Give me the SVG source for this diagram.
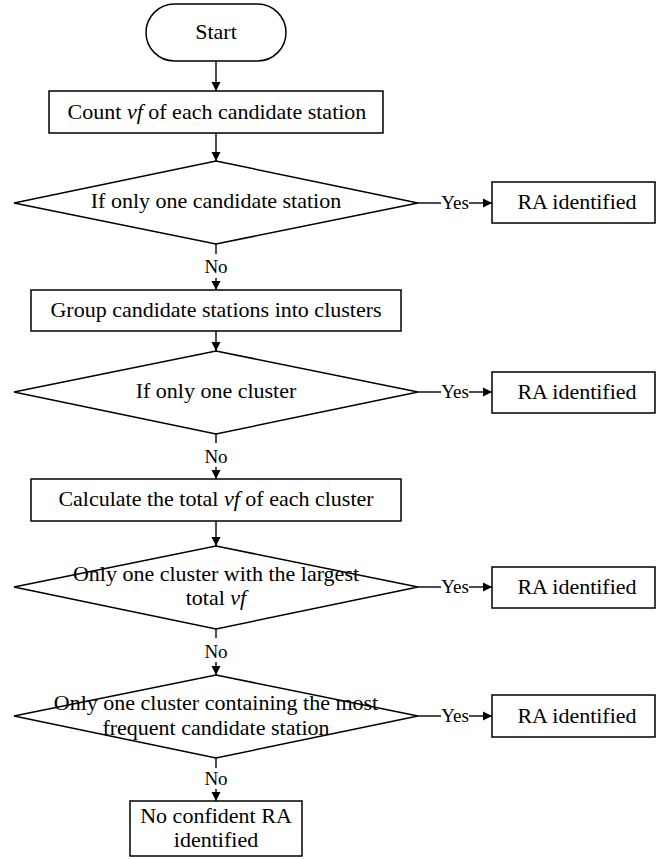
<svg xmlns="http://www.w3.org/2000/svg" width="656" height="859" viewBox="0 0 656 859">
<defs>
<marker id="ah" markerUnits="userSpaceOnUse" markerWidth="10" markerHeight="10" viewBox="0 0 10 10" refX="9" refY="5" orient="auto">
<path d="M0,0.5 L9,5 L0,9.5 Z" fill="#000"/>
</marker>
</defs>
<style>
.s{fill:#fff;stroke:#000;stroke-width:1.5}
.t{font-size:22px;fill:#000;text-anchor:middle}
.l{font-size:19px;fill:#000;text-anchor:middle}
.c{fill:none;stroke:#000;stroke-width:1.4}
.i{font-style:italic}
</style>
<rect width="656" height="859" fill="#fff"/>
<g font-family="Liberation Serif, Times New Roman, DejaVu Serif, serif">
<g id="connectors">
<path class="c" d="M216,61 V91" marker-end="url(#ah)"/>
<path class="c" d="M216,133 V161" marker-end="url(#ah)"/>
<path class="c" d="M216,244 V254"/>
<path class="c" d="M216,278 V290" marker-end="url(#ah)"/>
<path class="c" d="M216,331 V351" marker-end="url(#ah)"/>
<path class="c" d="M216,434 V443"/>
<path class="c" d="M216,467 V479" marker-end="url(#ah)"/>
<path class="c" d="M216,521 V546" marker-end="url(#ah)"/>
<path class="c" d="M216,629 V638"/>
<path class="c" d="M216,662 V675" marker-end="url(#ah)"/>
<path class="c" d="M216,758 V768"/>
<path class="c" d="M216,789 V801" marker-end="url(#ah)"/>
<path class="c" d="M418,203 H441"/>
<path class="c" d="M469,203 H492" marker-end="url(#ah)"/>
<path class="c" d="M418,392 H441"/>
<path class="c" d="M469,392 H492" marker-end="url(#ah)"/>
<path class="c" d="M418,587 H441"/>
<path class="c" d="M469,587 H492" marker-end="url(#ah)"/>
<path class="c" d="M418,716 H441"/>
<path class="c" d="M469,716 H492" marker-end="url(#ah)"/>
<text class="l" x="216" y="273">No</text>
<text class="l" x="216" y="463">No</text>
<text class="l" x="216" y="658">No</text>
<text class="l" x="216" y="785">No</text>
<text class="l" x="455" y="209">Yes</text>
<text class="l" x="455" y="398">Yes</text>
<text class="l" x="455" y="593">Yes</text>
<text class="l" x="455" y="722">Yes</text>
</g>
<g id="start">
<rect class="s" x="146" y="4" width="140" height="57" rx="28.5" ry="28.5"/>
<text class="t" x="216" y="39">Start</text>
</g>
<g id="count">
<rect class="s" x="49" y="91" width="334" height="42"/>
<text class="t" x="217" y="119">Count <tspan class="i">vf</tspan> of each candidate station</text>
</g>
<g id="dec1">
<polygon class="s" points="216,161 418,203 216,244 14,203"/>
<text class="t" x="216" y="208">If only one candidate station</text>
</g>
<g id="ra1">
<rect class="s" x="492" y="182" width="163" height="41"/>
<text class="t" x="577" y="209">RA identified</text>
</g>
<g id="group">
<rect class="s" x="31" y="290" width="370" height="41"/>
<text class="t" x="216" y="317">Group candidate stations into clusters</text>
</g>
<g id="dec2">
<polygon class="s" points="216,351 418,392 216,434 14,392"/>
<text class="t" x="216" y="398">If only one cluster</text>
</g>
<g id="ra2">
<rect class="s" x="492" y="372" width="163" height="41"/>
<text class="t" x="577" y="399">RA identified</text>
</g>
<g id="calc">
<rect class="s" x="31" y="479" width="370" height="42"/>
<text class="t" x="216" y="506">Calculate the total <tspan class="i">vf</tspan> of each cluster</text>
</g>
<g id="dec3">
<polygon class="s" points="216,546 418,587 216,629 14,587"/>
<text class="t" x="216" y="581">Only one cluster with the largest</text>
<text class="t" x="216" y="605">total <tspan class="i">vf</tspan></text>
</g>
<g id="ra3">
<rect class="s" x="492" y="567" width="163" height="41"/>
<text class="t" x="577" y="594">RA identified</text>
</g>
<g id="dec4">
<polygon class="s" points="216,675 418,716 216,758 14,716"/>
<text class="t" x="216" y="710">Only one cluster containing the most</text>
<text class="t" x="216" y="735">frequent candidate station</text>
</g>
<g id="ra4">
<rect class="s" x="492" y="695" width="163" height="42"/>
<text class="t" x="577" y="723">RA identified</text>
</g>
<g id="noconf">
<rect class="s" x="130" y="801" width="172" height="55"/>
<text class="t" x="216" y="823">No confident RA</text>
<text class="t" x="216" y="847">identified</text>
</g>
</g>
</svg>
